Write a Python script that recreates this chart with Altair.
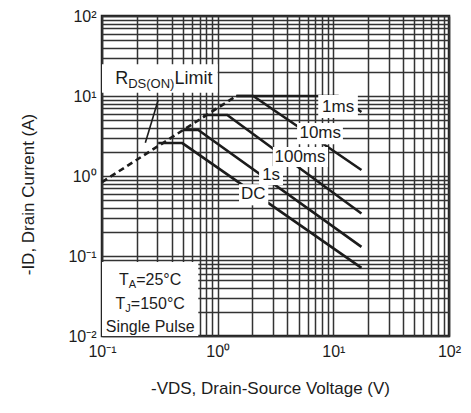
import altair as alt
import pandas as pd

FONT = "Liberation Sans"
INK = "#1c1c1c"

# ---------------- axis ticks ----------------
x_decades = [0.1, 1, 10, 100]
x_tick_labels = ["10⁻¹", "10⁰", "10¹", "10²"]
y_decades = [0.01, 0.1, 1, 10, 100]
y_tick_labels = ["10⁻²", "10⁻¹", "10⁰", "10¹", "10²"]
minor_steps = [1, 2, 3, 4, 5, 6, 7, 8, 9]

# ---------------- R_DS(ON) limit (dashed) ----------------
rds_v = [0.1, 1.45]
rds_i = [0.84, 10.0]

# leader from the R_DS(ON) label to the dashed line
leader_v = [0.306, 0.237]
leader_i = [8.9, 2.6]

# ---------------- SOA curves ----------------
curve_names = ["1ms", "10ms", "100ms", "1s", "DC"]
curve_v = {
    "1ms": [1.45, 11.0, 17.5],
    "10ms": [1.45, 2.03, 17.5],
    "100ms": [0.75, 1.21, 17.5],
    "1s": [0.5, 0.68, 17.5],
    "DC": [0.306, 0.495, 17.5],
}
curve_i = {
    "1ms": [10.0, 10.0, 6.3],
    "10ms": [10.0, 10.0, 1.19],
    "100ms": [5.8, 5.8, 0.34],
    "1s": [3.76, 3.76, 0.13],
    "DC": [2.58, 2.58, 0.071],
}

# curve labels (centre) and their white boxes
label_v = [11.0, 7.7, 5.15, 2.9, 2.03]
label_i = [7.3, 3.4, 1.73, 1.02, 0.59]
box_v1 = [7.4, 4.86, 3.0, 2.28, 1.53]
box_v2 = [16.3, 12.1, 9.0, 3.67, 2.74]
box_i1 = [5.3, 2.5, 1.3, 0.77, 0.43]
box_i2 = [10.3, 4.6, 2.3, 1.33, 0.79]

# annotation boxes
note_box_v1 = [0.1, 0.1]
note_box_v2 = [1.0, 0.68]
note_box_i1 = [11.0, 0.01]
note_box_i2 = [25.0, 0.084]

# annotation text anchors
rds_text_v, rds_text_i = 0.13, 16.3
cond_text_v = 0.261
cond_text_i = [0.05, 0.025, 0.0128]

# ---------------- helpers ----------------
WIDTHS = {
    "T": .611, "A": .667, "=": .584, "0": .556, "1": .556, "2": .556, "5": .556,
    "°": .400, "C": .722, "J": .500, "R": .722, "D": .722, "S": .667, "(": .333,
    ")": .333, "O": .778, "N": .722, "L": .556, "i": .222, "m": .833, "t": .278,
    "n": .556, "g": .556, "l": .222, "e": .556, " ": .278, "P": .667, "u": .556, "s": .500,
}


def text_width(s, size):
    return sum(WIDTHS.get(c, 0.556) for c in s) * size


def label_expr(decades, labels):
    expr = "''"
    for d, lab in zip(decades, labels):
        expr = f"abs(datum.value - {d}) < {d * 1e-6} ? '{lab}' : ({expr})"
    return expr


x_grid = [round(d * s, 6) for d in x_decades[:-1] for s in minor_steps] + [x_decades[-1]]
y_grid = [round(d * s, 6) for d in y_decades[:-1] for s in minor_steps] + [y_decades[-1]]

x_axis = alt.Axis(
    values=x_grid, labelExpr=label_expr(x_decades, x_tick_labels), labelOverlap=False,
    labelFlush=False, grid=True, ticks=False, domain=False, labelFontSize=16, labelPadding=7,
    labelColor=INK,
    title="-VDS, Drain-Source Voltage (V)", titleFontSize=17, titleFontWeight="normal",
    titleColor=INK, titleX=168, titleY=52, titleBaseline="middle", titleAlign="center",
)
y_axis = alt.Axis(
    values=y_grid, labelExpr=label_expr(y_decades, y_tick_labels), labelOverlap=False,
    labelFlush=False, grid=True, ticks=False, domain=False, labelFontSize=16, labelPadding=6,
    labelColor=INK,
    title="-ID, Drain Current (A)", titleFontSize=17, titleFontWeight="normal",
    titleColor=INK, titleX=-74, titleY=178, titleAngle=-90, titleBaseline="middle",
    titleAlign="center",
)
x_scale = alt.Scale(type="log", domain=[x_decades[0], x_decades[-1]])
y_scale = alt.Scale(type="log", domain=[y_decades[0], y_decades[-1]])
X = alt.X("v:Q", scale=x_scale, axis=x_axis)
Y = alt.Y("i:Q", scale=y_scale, axis=y_axis)


def rich_text(v, i, pieces, center=True):
    total = sum(text_width(t, s) for t, s, _ in pieces)
    dx = -total / 2 if center else 0
    out = []
    for t, s, dy in pieces:
        out.append(
            alt.Chart(pd.DataFrame({"v": [v], "i": [i], "t": [t]}))
            .mark_text(align="left", baseline="middle", dx=dx, dy=dy, fontSize=s, font=FONT, color=INK)
            .encode(x=X, y=Y, text="t:N")
        )
        dx += text_width(t, s)
    return out


# ---------------- data frames ----------------
note_boxes = pd.DataFrame({"v": note_box_v1, "v2": note_box_v2, "i": note_box_i1, "i2": note_box_i2})
rows = []
for name in curve_names:
    for k, (vv, ii) in enumerate(zip(curve_v[name], curve_i[name])):
        rows.append({"curve": name, "k": k, "v": vv, "i": ii})
curves = pd.DataFrame(rows)
rds = pd.DataFrame({"v": rds_v, "i": rds_i, "k": [0, 1]})
leader = pd.DataFrame({"v": leader_v, "i": leader_i, "k": [0, 1]})
lbl_boxes = pd.DataFrame({"v": box_v1, "v2": box_v2, "i": box_i1, "i2": box_i2})
labels = pd.DataFrame({"v": label_v, "i": label_i, "t": curve_names})

# ---------------- layers ----------------
white_notes = alt.Chart(note_boxes).mark_rect(color="white").encode(x=X, x2="v2", y=Y, y2="i2")
curve_lines = alt.Chart(curves).mark_line(color=INK, strokeWidth=2.6).encode(
    x=X, y=Y, detail="curve:N", order="k:Q")
rds_line = alt.Chart(rds).mark_line(color=INK, strokeWidth=2.6, strokeDash=[6, 4]).encode(
    x=X, y=Y, order="k:Q")
leader_line = alt.Chart(leader).mark_line(color=INK, strokeWidth=1.6).encode(x=X, y=Y, order="k:Q")
white_labels = alt.Chart(lbl_boxes).mark_rect(color="white").encode(x=X, x2="v2", y=Y, y2="i2")
label_text = alt.Chart(labels).mark_text(fontSize=17, font=FONT, color=INK, baseline="middle").encode(
    x=X, y=Y, text="t:N")

layers = [white_notes, curve_lines, rds_line, leader_line, white_labels, label_text]
layers += rich_text(rds_text_v, rds_text_i, [("R", 18, 0), ("DS(ON)", 13, 5), ("Limit", 18, 0)], center=False)
layers += rich_text(cond_text_v, cond_text_i[0], [("T", 16, 0), ("A", 11, 5), ("=25°C", 16, 0)])
layers += rich_text(cond_text_v, cond_text_i[1], [("T", 16, 0), ("J", 11, 5), ("=150°C", 16, 0)])
layers += rich_text(cond_text_v, cond_text_i[2], [("Single Pulse", 16, 0)])

chart = (
    alt.layer(*layers)
    .properties(width=347, height=320, padding={"left": 102, "top": 16, "right": 22, "bottom": 77},
                autosize=alt.AutoSizeParams(type="none"), background="white")
    .configure_view(stroke="#222", strokeWidth=2.5)
    .configure_axis(labelFont=FONT, titleFont=FONT, gridColor="#333", gridWidth=1.5, gridOpacity=1)
)

chart.save("out.html", embed_options={"renderer": "svg", "actions": False})
